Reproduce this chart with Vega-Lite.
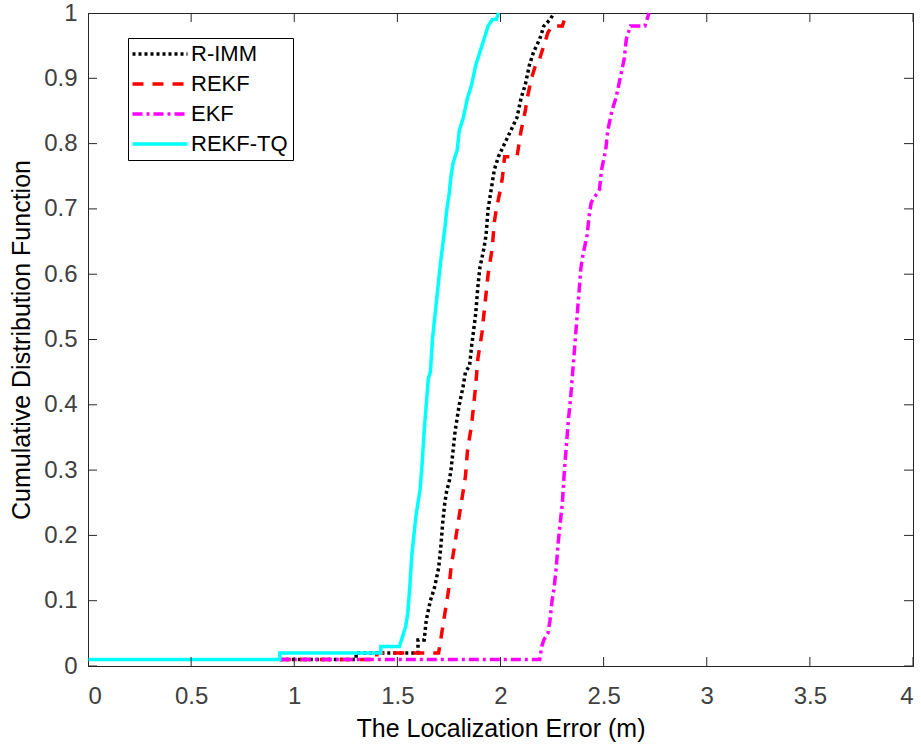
{
  "$schema": "https://vega.github.io/schema/vega-lite/v6.json",
  "width": 825,
  "height": 653,
  "autosize": "none",
  "padding": {"left": 88, "top": 13, "right": 8, "bottom": 78},
  "background": "white",
  "config": {
    "view": {"stroke": "#262626", "strokeWidth": 1},
    "axis": {
      "grid": false,
      "domainColor": "#262626",
      "labelFont": "Liberation Sans",
      "labelFontSize": 24,
      "labelColor": "#404040",
      "titleFont": "Liberation Sans",
      "titleFontSize": 25,
      "titleFontWeight": "normal",
      "titleColor": "#000000"
    },
    "legend": {
      "orient": "none",
      "legendX": 40,
      "legendY": 25,
      "strokeColor": "#000000",
      "fillColor": "#ffffff",
      "padding": 5,
      "labelFont": "Liberation Sans",
      "labelFontSize": 22,
      "labelColor": "#000000",
      "symbolType": "M-5,0L5,0",
      "symbolSize": 121,
      "symbolOffset": 16,
      "labelOffset": 20,
      "rowPadding": 8
    }
  },
  "datasets": {
    "xt": [{"t": 0}, {"t": 0.5}, {"t": 1}, {"t": 1.5}, {"t": 2}, {"t": 2.5}, {"t": 3}, {"t": 3.5}, {"t": 4}],
    "yt": [{"t": 0}, {"t": 0.1}, {"t": 0.2}, {"t": 0.3}, {"t": 0.4}, {"t": 0.5}, {"t": 0.6}, {"t": 0.7}, {"t": 0.8}, {"t": 0.9}, {"t": 1}],
    "cdf": [
      {"s": "R-IMM", "x": 0.93, "y": 0.01},
      {"s": "R-IMM", "x": 1.30, "y": 0.01},
      {"s": "R-IMM", "x": 1.30, "y": 0.02},
      {"s": "R-IMM", "x": 1.60, "y": 0.02},
      {"s": "R-IMM", "x": 1.60, "y": 0.04},
      {"s": "R-IMM", "x": 1.63, "y": 0.04},
      {"s": "R-IMM", "x": 1.64, "y": 0.07},
      {"s": "R-IMM", "x": 1.66, "y": 0.10},
      {"s": "R-IMM", "x": 1.68, "y": 0.12},
      {"s": "R-IMM", "x": 1.70, "y": 0.15},
      {"s": "R-IMM", "x": 1.71, "y": 0.18},
      {"s": "R-IMM", "x": 1.72, "y": 0.22},
      {"s": "R-IMM", "x": 1.73, "y": 0.25},
      {"s": "R-IMM", "x": 1.74, "y": 0.27},
      {"s": "R-IMM", "x": 1.75, "y": 0.28},
      {"s": "R-IMM", "x": 1.76, "y": 0.30},
      {"s": "R-IMM", "x": 1.77, "y": 0.33},
      {"s": "R-IMM", "x": 1.78, "y": 0.36},
      {"s": "R-IMM", "x": 1.80, "y": 0.40},
      {"s": "R-IMM", "x": 1.82, "y": 0.43},
      {"s": "R-IMM", "x": 1.83, "y": 0.45},
      {"s": "R-IMM", "x": 1.85, "y": 0.46},
      {"s": "R-IMM", "x": 1.86, "y": 0.49},
      {"s": "R-IMM", "x": 1.88, "y": 0.54},
      {"s": "R-IMM", "x": 1.89, "y": 0.58},
      {"s": "R-IMM", "x": 1.90, "y": 0.61},
      {"s": "R-IMM", "x": 1.92, "y": 0.64},
      {"s": "R-IMM", "x": 1.93, "y": 0.66},
      {"s": "R-IMM", "x": 1.94, "y": 0.70},
      {"s": "R-IMM", "x": 1.95, "y": 0.72},
      {"s": "R-IMM", "x": 1.96, "y": 0.74},
      {"s": "R-IMM", "x": 1.97, "y": 0.76},
      {"s": "R-IMM", "x": 1.99, "y": 0.78},
      {"s": "R-IMM", "x": 2.02, "y": 0.80},
      {"s": "R-IMM", "x": 2.05, "y": 0.82},
      {"s": "R-IMM", "x": 2.08, "y": 0.84},
      {"s": "R-IMM", "x": 2.10, "y": 0.87},
      {"s": "R-IMM", "x": 2.12, "y": 0.89},
      {"s": "R-IMM", "x": 2.14, "y": 0.92},
      {"s": "R-IMM", "x": 2.16, "y": 0.94},
      {"s": "R-IMM", "x": 2.19, "y": 0.96},
      {"s": "R-IMM", "x": 2.21, "y": 0.98},
      {"s": "R-IMM", "x": 2.24, "y": 0.99},
      {"s": "R-IMM", "x": 2.26, "y": 1.00},

      {"s": "REKF", "x": 0.93, "y": 0.01},
      {"s": "REKF", "x": 1.40, "y": 0.01},
      {"s": "REKF", "x": 1.40, "y": 0.02},
      {"s": "REKF", "x": 1.70, "y": 0.02},
      {"s": "REKF", "x": 1.71, "y": 0.04},
      {"s": "REKF", "x": 1.72, "y": 0.06},
      {"s": "REKF", "x": 1.74, "y": 0.10},
      {"s": "REKF", "x": 1.75, "y": 0.12},
      {"s": "REKF", "x": 1.76, "y": 0.15},
      {"s": "REKF", "x": 1.78, "y": 0.19},
      {"s": "REKF", "x": 1.80, "y": 0.23},
      {"s": "REKF", "x": 1.81, "y": 0.25},
      {"s": "REKF", "x": 1.83, "y": 0.29},
      {"s": "REKF", "x": 1.84, "y": 0.33},
      {"s": "REKF", "x": 1.86, "y": 0.37},
      {"s": "REKF", "x": 1.88, "y": 0.43},
      {"s": "REKF", "x": 1.89, "y": 0.47},
      {"s": "REKF", "x": 1.91, "y": 0.51},
      {"s": "REKF", "x": 1.93, "y": 0.57},
      {"s": "REKF", "x": 1.94, "y": 0.60},
      {"s": "REKF", "x": 1.96, "y": 0.64},
      {"s": "REKF", "x": 1.97, "y": 0.68},
      {"s": "REKF", "x": 1.98, "y": 0.70},
      {"s": "REKF", "x": 2.00, "y": 0.73},
      {"s": "REKF", "x": 2.01, "y": 0.75},
      {"s": "REKF", "x": 2.02, "y": 0.78},
      {"s": "REKF", "x": 2.08, "y": 0.78},
      {"s": "REKF", "x": 2.09, "y": 0.80},
      {"s": "REKF", "x": 2.10, "y": 0.82},
      {"s": "REKF", "x": 2.12, "y": 0.85},
      {"s": "REKF", "x": 2.13, "y": 0.87},
      {"s": "REKF", "x": 2.15, "y": 0.90},
      {"s": "REKF", "x": 2.17, "y": 0.92},
      {"s": "REKF", "x": 2.19, "y": 0.93},
      {"s": "REKF", "x": 2.21, "y": 0.95},
      {"s": "REKF", "x": 2.23, "y": 0.97},
      {"s": "REKF", "x": 2.25, "y": 0.98},
      {"s": "REKF", "x": 2.30, "y": 0.98},
      {"s": "REKF", "x": 2.31, "y": 0.99},
      {"s": "REKF", "x": 2.33, "y": 1.00},

      {"s": "EKF", "x": 0.93, "y": 0.01},
      {"s": "EKF", "x": 2.19, "y": 0.01},
      {"s": "EKF", "x": 2.20, "y": 0.03},
      {"s": "EKF", "x": 2.21, "y": 0.04},
      {"s": "EKF", "x": 2.23, "y": 0.05},
      {"s": "EKF", "x": 2.24, "y": 0.07},
      {"s": "EKF", "x": 2.25, "y": 0.10},
      {"s": "EKF", "x": 2.26, "y": 0.12},
      {"s": "EKF", "x": 2.27, "y": 0.15},
      {"s": "EKF", "x": 2.28, "y": 0.19},
      {"s": "EKF", "x": 2.29, "y": 0.22},
      {"s": "EKF", "x": 2.30, "y": 0.25},
      {"s": "EKF", "x": 2.31, "y": 0.30},
      {"s": "EKF", "x": 2.32, "y": 0.34},
      {"s": "EKF", "x": 2.33, "y": 0.38},
      {"s": "EKF", "x": 2.34, "y": 0.41},
      {"s": "EKF", "x": 2.35, "y": 0.45},
      {"s": "EKF", "x": 2.36, "y": 0.49},
      {"s": "EKF", "x": 2.37, "y": 0.53},
      {"s": "EKF", "x": 2.38, "y": 0.57},
      {"s": "EKF", "x": 2.39, "y": 0.61},
      {"s": "EKF", "x": 2.40, "y": 0.63},
      {"s": "EKF", "x": 2.42, "y": 0.66},
      {"s": "EKF", "x": 2.43, "y": 0.69},
      {"s": "EKF", "x": 2.44, "y": 0.71},
      {"s": "EKF", "x": 2.46, "y": 0.72},
      {"s": "EKF", "x": 2.48, "y": 0.73},
      {"s": "EKF", "x": 2.49, "y": 0.76},
      {"s": "EKF", "x": 2.51, "y": 0.79},
      {"s": "EKF", "x": 2.52, "y": 0.82},
      {"s": "EKF", "x": 2.54, "y": 0.85},
      {"s": "EKF", "x": 2.56, "y": 0.87},
      {"s": "EKF", "x": 2.58, "y": 0.90},
      {"s": "EKF", "x": 2.60, "y": 0.93},
      {"s": "EKF", "x": 2.61, "y": 0.96},
      {"s": "EKF", "x": 2.63, "y": 0.98},
      {"s": "EKF", "x": 2.70, "y": 0.98},
      {"s": "EKF", "x": 2.72, "y": 1.00},

      {"s": "REKF-TQ", "x": 0.00, "y": 0.01},
      {"s": "REKF-TQ", "x": 0.93, "y": 0.01},
      {"s": "REKF-TQ", "x": 0.93, "y": 0.02},
      {"s": "REKF-TQ", "x": 1.42, "y": 0.02},
      {"s": "REKF-TQ", "x": 1.42, "y": 0.03},
      {"s": "REKF-TQ", "x": 1.51, "y": 0.03},
      {"s": "REKF-TQ", "x": 1.52, "y": 0.04},
      {"s": "REKF-TQ", "x": 1.53, "y": 0.05},
      {"s": "REKF-TQ", "x": 1.54, "y": 0.06},
      {"s": "REKF-TQ", "x": 1.55, "y": 0.08},
      {"s": "REKF-TQ", "x": 1.56, "y": 0.12},
      {"s": "REKF-TQ", "x": 1.57, "y": 0.17},
      {"s": "REKF-TQ", "x": 1.58, "y": 0.20},
      {"s": "REKF-TQ", "x": 1.59, "y": 0.23},
      {"s": "REKF-TQ", "x": 1.60, "y": 0.25},
      {"s": "REKF-TQ", "x": 1.61, "y": 0.27},
      {"s": "REKF-TQ", "x": 1.62, "y": 0.31},
      {"s": "REKF-TQ", "x": 1.63, "y": 0.36},
      {"s": "REKF-TQ", "x": 1.64, "y": 0.40},
      {"s": "REKF-TQ", "x": 1.65, "y": 0.44},
      {"s": "REKF-TQ", "x": 1.66, "y": 0.45},
      {"s": "REKF-TQ", "x": 1.67, "y": 0.50},
      {"s": "REKF-TQ", "x": 1.69, "y": 0.56},
      {"s": "REKF-TQ", "x": 1.71, "y": 0.62},
      {"s": "REKF-TQ", "x": 1.73, "y": 0.67},
      {"s": "REKF-TQ", "x": 1.74, "y": 0.70},
      {"s": "REKF-TQ", "x": 1.75, "y": 0.72},
      {"s": "REKF-TQ", "x": 1.76, "y": 0.75},
      {"s": "REKF-TQ", "x": 1.77, "y": 0.77},
      {"s": "REKF-TQ", "x": 1.79, "y": 0.79},
      {"s": "REKF-TQ", "x": 1.80, "y": 0.82},
      {"s": "REKF-TQ", "x": 1.82, "y": 0.84},
      {"s": "REKF-TQ", "x": 1.84, "y": 0.87},
      {"s": "REKF-TQ", "x": 1.86, "y": 0.89},
      {"s": "REKF-TQ", "x": 1.88, "y": 0.92},
      {"s": "REKF-TQ", "x": 1.90, "y": 0.94},
      {"s": "REKF-TQ", "x": 1.92, "y": 0.96},
      {"s": "REKF-TQ", "x": 1.94, "y": 0.98},
      {"s": "REKF-TQ", "x": 1.96, "y": 0.99},
      {"s": "REKF-TQ", "x": 1.98, "y": 0.99},
      {"s": "REKF-TQ", "x": 1.99, "y": 1.00}
    ]
  },
  "data": {"name": "cdf"},
  "resolve": {"axis": {"x": "independent", "y": "independent"}},
  "layer": [
    {
      "transform": [{"filter": "datum.s === 'R-IMM'"}],
      "mark": {"type": "line"},
      "encoding": {
        "x": {"field": "x", "type": "quantitative", "scale": {"domain": [0, 4], "nice": false},
              "axis": {"orient": "bottom", "title": "The Localization Error (m)", "values": [0, 0.5, 1, 1.5, 2, 2.5, 3, 3.5, 4], "format": "~g", "ticks": false, "labelPadding": 18, "titlePadding": 8}},
        "y": {"field": "y", "type": "quantitative", "scale": {"domain": [0, 1], "nice": false, "zero": false},
              "axis": {"orient": "left", "title": "Cumulative Distribution Function", "values": [0, 0.1, 0.2, 0.3, 0.4, 0.5, 0.6, 0.7, 0.8, 0.9, 1], "format": "~g", "ticks": false, "labelPadding": 11, "titlePadding": 9}},
        "order": {"field": "x"},
        "color": {"field": "s", "type": "nominal", "title": null, "scale": {"domain": ["R-IMM", "REKF", "EKF", "REKF-TQ"], "range": ["#000000", "#FF0000", "#FF00FF", "#00FFFF"]}},
        "strokeDash": {"field": "s", "type": "nominal", "title": null, "scale": {"domain": ["R-IMM", "REKF", "EKF", "REKF-TQ"], "range": [[3, 3], [11, 9], [10, 4, 3, 4], [1, 0]]}},
        "strokeWidth": {"field": "s", "type": "nominal", "title": null, "scale": {"domain": ["R-IMM", "REKF", "EKF", "REKF-TQ"], "range": [3.5, 3.5, 3.5, 4.5]}}
      }
    },
    {
      "transform": [{"filter": "datum.s === 'REKF'"}],
      "mark": {"type": "line"},
      "encoding": {
        "x": {"field": "x", "type": "quantitative", "axis": null},
        "y": {"field": "y", "type": "quantitative", "axis": null},
        "order": {"field": "x"},
        "color": {"field": "s", "type": "nominal", "title": null},
        "strokeDash": {"field": "s", "type": "nominal", "title": null},
        "strokeWidth": {"field": "s", "type": "nominal", "title": null}
      }
    },
    {
      "transform": [{"filter": "datum.s === 'EKF'"}],
      "mark": {"type": "line"},
      "encoding": {
        "x": {"field": "x", "type": "quantitative", "axis": null},
        "y": {"field": "y", "type": "quantitative", "axis": null},
        "order": {"field": "x"},
        "color": {"field": "s", "type": "nominal", "title": null},
        "strokeDash": {"field": "s", "type": "nominal", "title": null},
        "strokeWidth": {"field": "s", "type": "nominal", "title": null}
      }
    },
    {
      "transform": [{"filter": "datum.s === 'REKF-TQ'"}],
      "mark": {"type": "line"},
      "encoding": {
        "x": {"field": "x", "type": "quantitative", "axis": null},
        "y": {"field": "y", "type": "quantitative", "axis": null},
        "order": {"field": "x"},
        "color": {"field": "s", "type": "nominal", "title": null},
        "strokeDash": {"field": "s", "type": "nominal", "title": null},
        "strokeWidth": {"field": "s", "type": "nominal", "title": null}
      }
    },
    {
      "data": {"name": "xt"},
      "mark": {"type": "tick", "orient": "vertical", "size": 18, "thickness": 1, "color": "#262626", "opacity": 1, "clip": true},
      "encoding": {
        "x": {"field": "t", "type": "quantitative", "axis": null},
        "y": {"datum": 0, "type": "quantitative", "axis": null}
      }
    },
    {
      "data": {"name": "xt"},
      "mark": {"type": "tick", "orient": "vertical", "size": 18, "thickness": 1, "color": "#262626", "opacity": 1, "clip": true},
      "encoding": {
        "x": {"field": "t", "type": "quantitative", "axis": null},
        "y": {"datum": 1, "type": "quantitative", "axis": null}
      }
    },
    {
      "data": {"name": "yt"},
      "mark": {"type": "tick", "orient": "horizontal", "size": 18, "thickness": 1, "color": "#262626", "opacity": 1, "clip": true},
      "encoding": {
        "y": {"field": "t", "type": "quantitative", "axis": null},
        "x": {"datum": 0, "type": "quantitative", "axis": null}
      }
    },
    {
      "data": {"name": "yt"},
      "mark": {"type": "tick", "orient": "horizontal", "size": 18, "thickness": 1, "color": "#262626", "opacity": 1, "clip": true},
      "encoding": {
        "y": {"field": "t", "type": "quantitative", "axis": null},
        "x": {"datum": 4, "type": "quantitative", "axis": null}
      }
    }
  ]
}
